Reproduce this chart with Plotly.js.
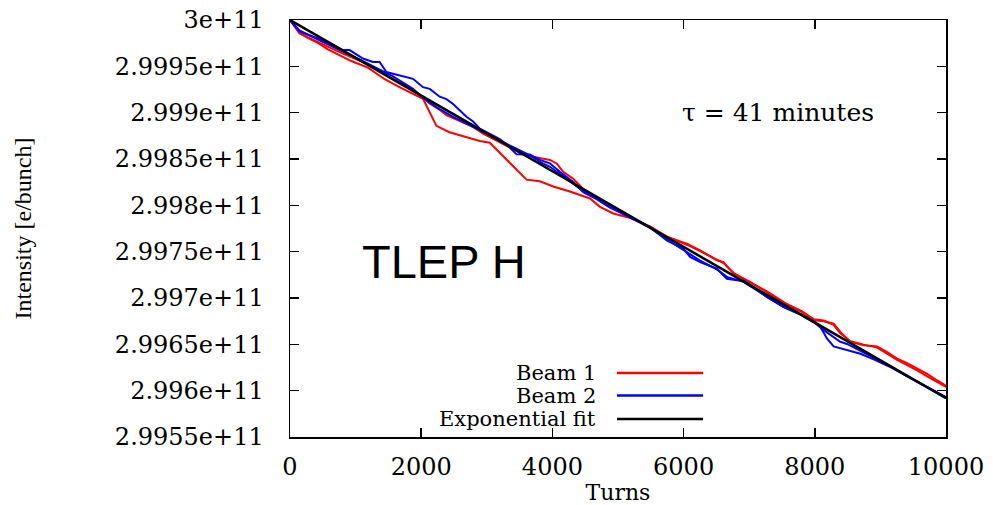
<!DOCTYPE html>
<html>
<head>
<meta charset="utf-8">
<script src="https://cdn.plot.ly/plotly-3.0.1.min.js"></script>
<style>html,body{margin:0;padding:0;background:#fff;}#chart{width:993px;height:505px;}</style>
</head>
<body>
<div id="chart"></div>
<script>
// ---- data (intensity in e/bunch, written as value×1e6) ----
const turnsB1a = [0,145,272,424,577,781,934,1188,1443,1698,1951,2028,2130,2232,2430,2690,2893,3046,3198,3351,3504,3606,3809,4013,4267,4420,4573,4725,4928,5030,5233,5488,5743,6048,6252,6507,6608,6760,7015,7270,7550,7800,7982,8134,8287,8389,8542,8745,8950,9102,9255,9407,9560,9713,9865,10000];
const beam1a = [300000e6,299986.5e6,299980.7e6,299975.3e6,299968.3e6,299961.1e6,299955.7e6,299948.6e6,299936.1e6,299926.6e6,299917.4e6,299914.9e6,299900.3e6,299885.8e6,299878.9e6,299873.1e6,299869.4e6,299867.6e6,299856.7e6,299845.9e6,299834.9e6,299827.7e6,299825.9e6,299820.4e6,299814.9e6,299811.3e6,299807.4e6,299798.4e6,299791.2e6,299789.4e6,299785.6e6,299776.6e6,299765.8e6,299758.6e6,299751.4e6,299740.7e6,299738.8e6,299726.4e6,299717.3e6,299706.4e6,299693.6e6,299685.0e6,299676.0e6,299674.9e6,299672.2e6,299663.4e6,299652.6e6,299648.9e6,299647.8e6,299641.7e6,299634.5e6,299629.7e6,299623.7e6,299618.2e6,299611.0e6,299605.3e6];

const turnsB1b = [0,145,272,424,577,781,934,1188,1443,1698,1951,2130,2282,2384,2588,2791,2944,3096,3300,3504,3656,3809,3962,4064,4165,4318,4470,4674,4878,5030,5233,5488,5743,6048,6252,6507,6608,6760,7015,7270,7550,7800,7982,8134,8287,8389,8542,8745,8950,9102,9255,9407,9560,9713,9865,10000];
const beam1b = [300000e6,299985.4e6,299981.3e6,299976.2e6,299971.8e6,299964.6e6,299960.1e6,299952.3e6,299941.5e6,299930.7e6,299920.4e6,299909.9e6,299903.1e6,299897.3e6,299891.2e6,299884.7e6,299877.3e6,299871.6e6,299864.2e6,299856.7e6,299853.0e6,299851.0e6,299849.0e6,299845.2e6,299836.2e6,299828.7e6,299817.7e6,299808.4e6,299799.2e6,299792.6e6,299785.0e6,299777.4e6,299766.5e6,299757.5e6,299750.6e6,299741.5e6,299737.7e6,299727.2e6,299716.5e6,299707.1e6,299694.5e6,299685.8e6,299677.2e6,299675.7e6,299671.0e6,299662.0e6,299653.4e6,299649.7e6,299646.5e6,299640.0e6,299633.2e6,299627.5e6,299622.0e6,299615.5e6,299609.0e6,299604.0e6];

const turnsB2a = [0,145,348,603,806,908,1112,1264,1366,1469,1570,1672,1875,2027,2130,2282,2385,2486,2588,2690,2791,2893,3046,3198,3300,3453,3656,3809,3962,4114,4318,4470,4674,4878,5233,5488,5743,5997,6099,6252,6507,6659,6812,6913,7066,7270,7523,7779,7982,8084,8134,8185,8287,8389,8491,8695,8898,9153,9407,9611,9813,10000];
const beam2a = [300000e6,299987.6e6,299982.2e6,299974.9e6,299967.5e6,299967.5e6,299958.4e6,299954.8e6,299954.8e6,299943.9e6,299942.0e6,299940.2e6,299936.5e6,299927.5e6,299925.7e6,299917.2e6,299914.6e6,299909.3e6,299902.0e6,299895.6e6,299890.4e6,299882.8e6,299877.1e6,299871.6e6,299866.0e6,299855.0e6,299854.8e6,299849.1e6,299845.4e6,299836.1e6,299825.1e6,299814.1e6,299806.7e6,299797.4e6,299785.6e6,299776.6e6,299762.2e6,299753.2e6,299744.3e6,299738.8e6,299731.6e6,299720.8e6,299719.1e6,299719.0e6,299711.7e6,299701.0e6,299690.4e6,299682.6e6,299674.8e6,299668.7e6,299662.7e6,299656.4e6,299647.8e6,299645.8e6,299643.3e6,299639.8e6,299633.8e6,299625.4e6,299615.7e6,299607.7e6,299600.4e6,299593.1e6];

const turnsB2b = [0,145,348,603,806,1112,1366,1570,1875,2027,2130,2282,2486,2690,2893,3046,3300,3504,3656,3809,3962,4114,4318,4470,4674,4878,5233,5488,5743,5997,6252,6507,6659,6913,7270,7523,7779,7982,8185,8287,8389,8491,8695,8898,9153,9407,9611,9813,10000];
const beam2b = [300000e6,299988.7e6,299981.5e6,299973.2e6,299966.0e6,299955.7e6,299946.5e6,299939.1e6,299925.7e6,299916.2e6,299910.9e6,299903.7e6,299895.4e6,299888.0e6,299880.9e6,299875.7e6,299866.5e6,299859.2e6,299854.0e6,299846.8e6,299841.6e6,299833.7e6,299823.8e6,299815.4e6,299807.1e6,299798.3e6,299785.0e6,299775.6e6,299763.2e6,299752.3e6,299740.4e6,299731.0e6,299722.8e6,299717.4e6,299701.4e6,299690.1e6,299682.1e6,299673.8e6,299662.9e6,299657.6e6,299652.8e6,299650.4e6,299643.0e6,299635.4e6,299626.1e6,299615.3e6,299607.4e6,299599.6e6,299592.5e6];

const turnsFit = [0,5000,10000];
const fitVals = [300000e6,299796e6,299592e6];

const xTicks = [0,2000,4000,6000,8000,10000];
const yTickVals = [3e11,2.9995e11,2.999e11,2.9985e11,2.998e11,2.9975e11,2.997e11,2.9965e11,2.996e11,2.9955e11];
const yTickText = ['3e+11','2.9995e+11','2.999e+11','2.9985e+11','2.998e+11','2.9975e+11','2.997e+11','2.9965e+11','2.996e+11','2.9955e+11'];
const legendNames = ['Beam 1','Beam 2','Exponential fit'];
const legendColors = ['#ff0000','#0000ff','#000000'];

// ---- drawing ----
const serif = 'DejaVu Serif';
const traces = [
  {x: turnsB1a, y: beam1a, mode:'lines', line:{color:'#ff0000', width:2}, showlegend:false},
  {x: turnsB1b, y: beam1b, mode:'lines', line:{color:'#ff0000', width:2}, showlegend:false},
  {x: turnsB2a, y: beam2a, mode:'lines', line:{color:'#0000ff', width:2}, showlegend:false},
  {x: turnsB2b, y: beam2b, mode:'lines', line:{color:'#0000ff', width:2}, showlegend:false},
  {x: turnsFit, y: fitVals, mode:'lines', line:{color:'#000000', width:2.5}, showlegend:false}
];

const legY = [0.1535, 0.0995, 0.0432];
const annotations = legendNames.map((n,i)=>({
  xref:'paper', yref:'paper', x:0.4695, y:legY[i], xanchor:'right', yanchor:'middle',
  text:n, showarrow:false, font:{family:serif, size:21, color:'#000'}
}));
annotations.push({xref:'paper', yref:'paper', x:0.594, y:0.777, xanchor:'left', yanchor:'middle',
  text:'τ = 41 minutes', showarrow:false, font:{family:serif, size:25, color:'#000'}});
annotations.push({xref:'paper', yref:'paper', x:0.107, y:0.42, xanchor:'left', yanchor:'middle',
  text:'TLEP H', showarrow:false, font:{family:'Liberation Sans', size:47, color:'#000'}});

const shapes = legendColors.map((c,i)=>({
  type:'line', xref:'paper', yref:'paper', x0:0.4985, x1:0.6296, y0:legY[i], y1:legY[i],
  line:{color:c, width:2.5}
}));

const axisCommon = {
  showline:true, linecolor:'#000', linewidth:1.5, mirror:'ticks',
  ticks:'inside', ticklen:9, tickwidth:1.5, tickcolor:'#000',
  showgrid:false, zeroline:false,
  tickfont:{family:serif, size:24, color:'#000'}
};

const layout = {
  width:993, height:505,
  margin:{l:290, r:47, t:20, b:68},
  paper_bgcolor:'#fff', plot_bgcolor:'#fff',
  showlegend:false,
  xaxis: Object.assign({}, axisCommon, {
    range:[0,10000], tickmode:'array', tickvals:xTicks, ticktext:xTicks.map(String),
    ticklabelstandoff:8,
    title:{text:'Turns', font:{family:serif, size:22, color:'#000'}, standoff:9}
  }),
  yaxis: Object.assign({}, axisCommon, {
    range:[2.9955e11, 3e11], tickmode:'array', tickvals:yTickVals, ticktext:yTickText,
    ticklabelstandoff:20,
    title:{text:'Intensity [e/bunch]', font:{family:'Liberation Serif', size:24, color:'#000'}, standoff:76}
  }),
  annotations: annotations,
  shapes: shapes
};

Plotly.newPlot('chart', traces, layout, {displayModeBar:false, staticPlot:true});
</script>
</body>
</html>
